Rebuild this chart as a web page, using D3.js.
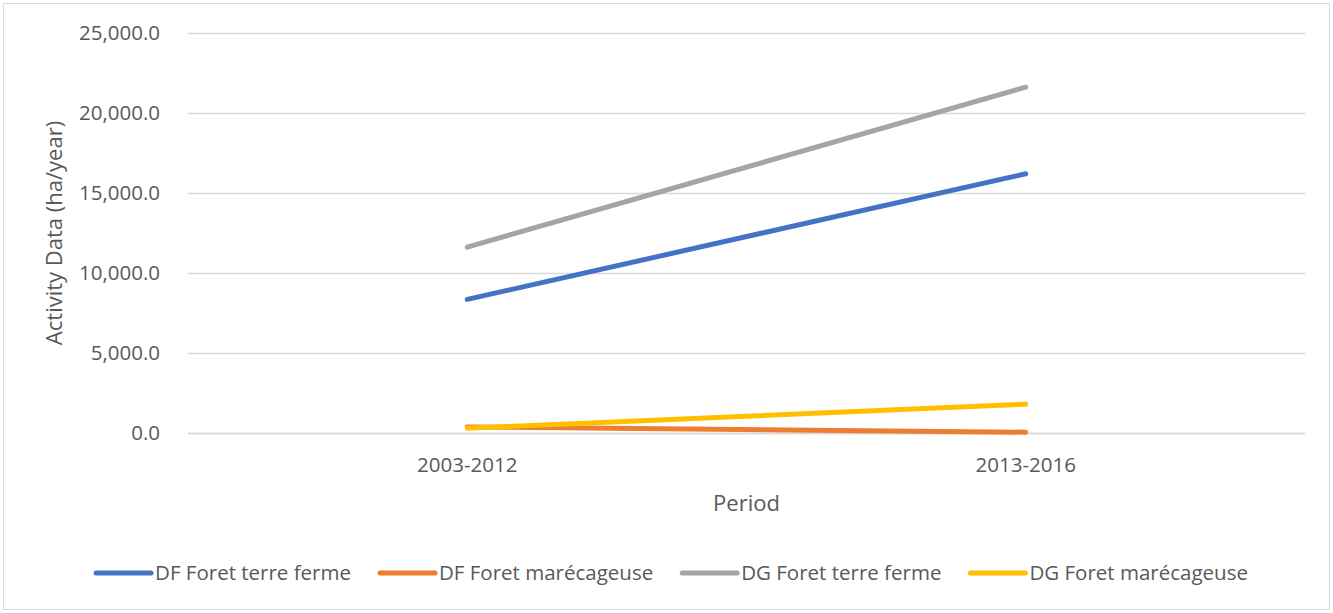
<!DOCTYPE html>
<html>
<head>
<meta charset="utf-8">
<script src="https://cdn.jsdelivr.net/npm/d3@7"></script>
<style>
  html, body { margin: 0; padding: 0; background: #fff; }
  svg { display: block; }
  text { font-family: "Open Sans", "Noto Sans", sans-serif; fill: #595959; }
</style>
</head>
<body>
<svg id="chart" width="1333" height="613"></svg>
<script>
// Periods on the x axis
const periods = ["2003-2012", "2013-2016"];

// Activity data (ha/year) per series, one value per period
const dfTerreFerme   = [8350, 16200];
const dfMarecageuse  = [380, 50];
const dgTerreFerme   = [11620, 21620];
const dgMarecageuse  = [300, 1800];

const yTicks = [0, 5000, 10000, 15000, 20000, 25000];

const seriesNames  = ["DF Foret terre ferme", "DF Foret marécageuse", "DG Foret terre ferme", "DG Foret marécageuse"];
const seriesColors = ["#4472c4", "#ed7d31", "#a5a5a5", "#ffc000"];
const seriesValues = [dfTerreFerme, dfMarecageuse, dgTerreFerme, dgMarecageuse];

const svg = d3.select("#chart");
const W = 1333, H = 613;

// outer chart border
svg.append("rect")
  .attr("x", 3.5).attr("y", 3.5)
  .attr("width", W - 7).attr("height", H - 7)
  .attr("fill", "#fff").attr("stroke", "#d9d9d9").attr("stroke-width", 1);

const plot = { left: 188, right: 1305, top: 33, bottom: 433 };

const x = d3.scaleBand().domain(periods).range([plot.left, plot.right]);
const y = d3.scaleLinear().domain([0, 25000]).range([plot.bottom, plot.top]);

const fmt = d3.format(",.1f");

// horizontal gridlines + y tick labels
const yAxis = d3.axisLeft(y).tickValues(yTicks).tickFormat(fmt)
  .tickSize(-(plot.right - plot.left)).tickPadding(28);
const gy = svg.append("g").attr("transform", `translate(${plot.left},0)`).call(yAxis);
gy.select(".domain").remove();
gy.selectAll(".tick line").attr("stroke", "#d9d9d9").attr("stroke-width", 1.5);
gy.selectAll(".tick text").attr("font-size", 20.5).style("fill", "#595959");

// x axis line + category labels
const xAxis = d3.axisBottom(x).tickSize(0).tickPadding(24);
const gx = svg.append("g").attr("transform", `translate(0,${plot.bottom})`).call(xAxis);
gx.select(".domain").attr("stroke", "#d9d9d9").attr("stroke-width", 1.5);
gx.selectAll(".tick text").attr("font-size", 20.5).style("fill", "#595959");

// series lines
const line = d3.line()
  .x((d, i) => x(periods[i]) + x.bandwidth() / 2)
  .y(d => y(d));

seriesValues.forEach((vals, k) => {
  svg.append("path")
    .datum(vals)
    .attr("d", line)
    .attr("fill", "none")
    .attr("stroke", seriesColors[k])
    .attr("stroke-width", 5)
    .attr("stroke-linecap", "round");
});

// axis titles
svg.append("text")
  .attr("transform", `translate(62,${(plot.top + plot.bottom) / 2}) rotate(-90)`)
  .attr("text-anchor", "middle")
  .attr("font-size", 22)
  .text("Activity Data (ha/year)");

svg.append("text")
  .attr("x", (plot.left + plot.right) / 2)
  .attr("y", 511)
  .attr("text-anchor", "middle")
  .attr("font-size", 22)
  .text("Period");

// legend, centred under the plot
const legend = svg.append("g");
const swatch = 57, gapText = 4, gapItem = 27;
let cx = 0;
seriesNames.forEach((name, k) => {
  const g = legend.append("g").attr("transform", `translate(${cx},0)`);
  g.append("line")
    .attr("x1", 2).attr("x2", swatch).attr("y1", 0).attr("y2", 0)
    .attr("stroke", seriesColors[k]).attr("stroke-width", 5).attr("stroke-linecap", "round");
  const t = g.append("text")
    .attr("x", swatch + gapText).attr("y", 7)
    .attr("font-size", 20.5)
    .text(name);
  cx += swatch + gapText + t.node().getComputedTextLength() + gapItem;
});
const legendWidth = cx - gapItem;
legend.attr("transform", `translate(${671 - legendWidth / 2},573)`);
</script>
</body>
</html>
